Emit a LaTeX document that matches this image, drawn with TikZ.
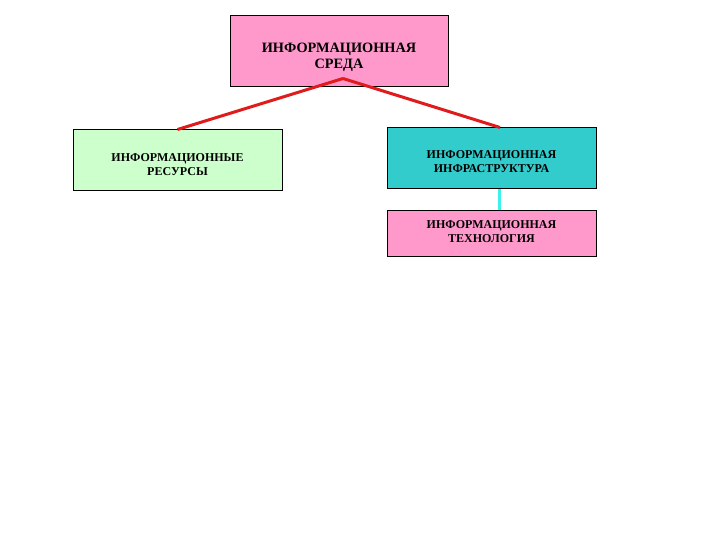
\documentclass[tikz,border=0pt]{standalone}
\usepackage{fontspec}
\setmainfont{Liberation Serif}
\usetikzlibrary{positioning, calc}
\definecolor{boxpink}{HTML}{FF99CC}
\definecolor{boxgreen}{HTML}{CCFFCC}
\definecolor{boxteal}{HTML}{33CCCC}
\definecolor{linkred}{HTML}{E01B1B}
\definecolor{linkcyan}{HTML}{3FF0F0}

\begin{document}
\begin{tikzpicture}[x=1pt, y=-1pt,
    block/.style={draw=black, line width=1pt, inner sep=0pt, minimum width=209pt},
    blocktext/.style={inner sep=0pt, align=center,
      font=\bfseries\fontsize{12}{14}\selectfont},
    redlink/.style={draw=linkred, line width=3pt},
    cyanlink/.style={draw=linkcyan, line width=3pt}]
        % Page frame
        \useasboundingbox (0,0) rectangle (720,540);

        % Top block
        \node[block, fill=boxpink, minimum width=218pt, minimum height=71pt] (sreda) at (339,51.5) {};
        \node[blocktext, font=\bfseries\fontsize{14.3}{16}\selectfont] (sredatxt)
          at ($(sreda.center)+(0,5.5)$) {ИНФОРМАЦИОННАЯ\\СРЕДА};

        % Second row
        \node[block, fill=boxgreen, minimum height=61pt] (resursy) at (177.5,160.5) {};
        \node[blocktext] (resursytxt) at ($(resursy.center)+(0,4)$) {ИНФОРМАЦИОННЫЕ\\РЕСУРСЫ};
        \node[block, fill=boxteal, minimum height=61pt] (infra) at (491.5,158.5) {};
        \node[blocktext] (infratxt) at ($(infra.center)+(0,3)$) {ИНФОРМАЦИОННАЯ\\ИНФРАСТРУКТУРА};

        % Third row
        \node[block, fill=boxpink, minimum height=45pt] (tekhn) at (491.5,233.5) {};
        \node[blocktext] (tekhntxt) at ($(tekhn.center)+(0,-2)$) {ИНФОРМАЦИОННАЯ\\ТЕХНОЛОГИЯ};

        % Links
        \coordinate (apex) at ($(sreda.south)+(4pt,9pt)$);
        \draw[redlink] (apex) -- (resursy.north);
        \draw[redlink] (apex) -- ($(infra.north)+(8.5pt,0)$);
        \draw[cyanlink] ($(infra.south)+(7.5pt,0)$) -- ($(tekhn.north)+(7.5pt,0)$);
\end{tikzpicture}
\end{document}
